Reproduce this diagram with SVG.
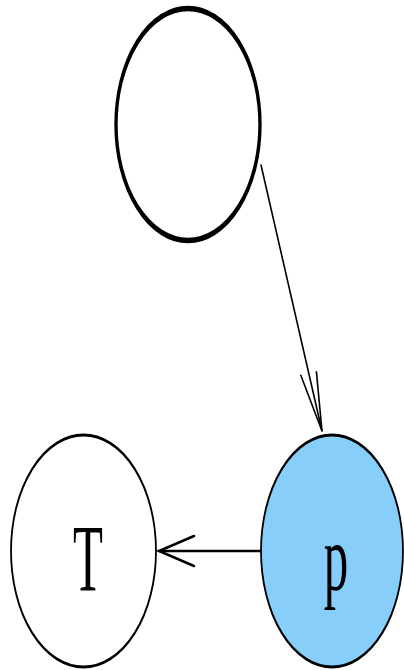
<svg xmlns="http://www.w3.org/2000/svg" width="404" height="670" viewBox="0 0 404 670">
<style>
.node{stroke:#000;}
.lbl{font-family:"Liberation Serif","Times New Roman",serif;font-size:96px;fill:#000;}
.edge{fill:none;stroke:#000;stroke-linecap:round;stroke-linejoin:miter;}
</style>
<rect width="404" height="670" fill="#fff"/>
<g id="connectors">
<g id="e1"><line class="edge" x1="261" y1="165" x2="322" y2="431" stroke-width="1.6"/><polyline class="edge" points="300.8,375.3 322,431 316.4,371.7" stroke-width="1.6"/></g>
<g id="e2"><line class="edge" x1="262" y1="551" x2="159" y2="551" stroke-width="2.5"/><polyline class="edge" points="194,536 159,551 194,566" stroke-width="2.5"/></g>
</g>
<g id="n0"><ellipse class="node" cx="0" cy="0" rx="72" ry="72" transform="translate(188,124.5) scale(1,1.611)" fill="#fff" stroke-width="3.4"/></g>
<g id="nT"><ellipse class="node" cx="0" cy="0" rx="72.5" ry="72.5" transform="translate(83.5,551) scale(1,1.6)" fill="#fff" stroke-width="1.8"/><text class="lbl" transform="translate(88,591) scale(0.51,1)" text-anchor="middle">T</text></g>
<g id="np"><ellipse class="node" cx="0" cy="0" rx="71" ry="71" transform="translate(332,551) scale(1,1.634)" fill="#87cefa" stroke-width="1.8"/><text class="lbl" transform="translate(336,590) scale(0.51,1)" text-anchor="middle">p</text></g>
</svg>
